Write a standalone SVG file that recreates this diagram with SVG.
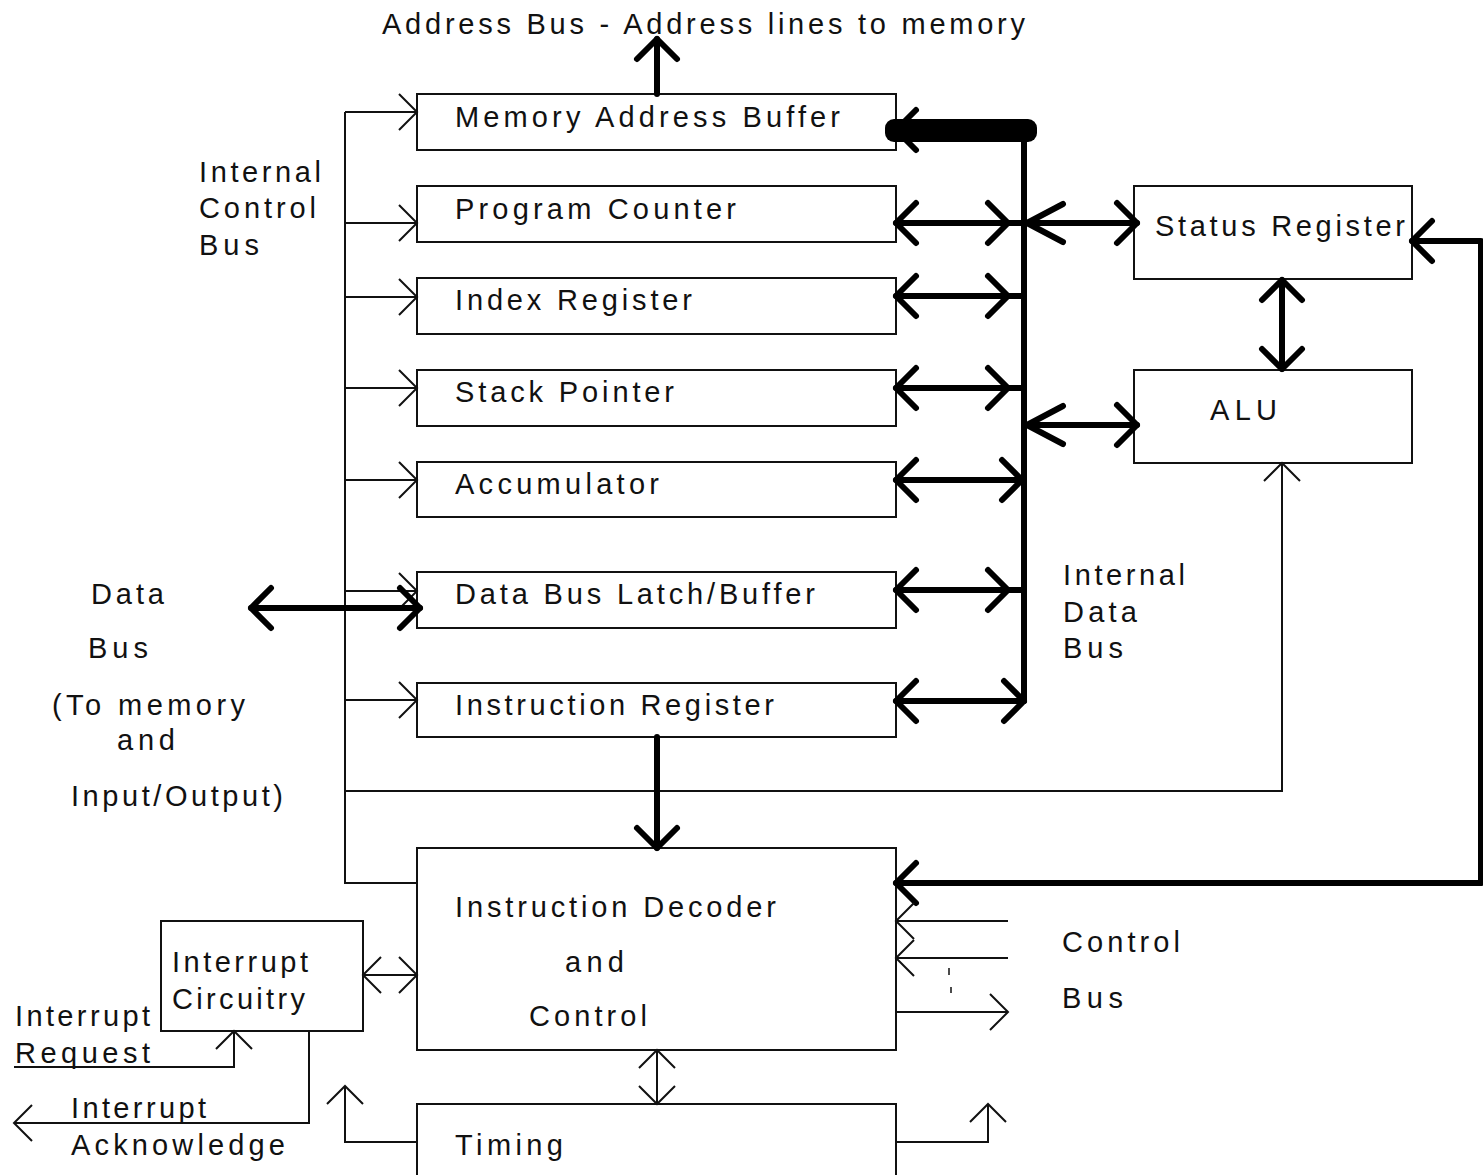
<svg xmlns="http://www.w3.org/2000/svg" width="1483" height="1175" viewBox="0 0 1483 1175">
  <style>
    text { font-family: "Liberation Sans", Arial, sans-serif; font-size: 29px; fill: #111; }
    .box { fill: #fff; stroke: #111; stroke-width: 2; }
    .thin { fill: none; stroke: #111; stroke-width: 2; }
    .thick { fill: none; stroke: #000; stroke-width: 6; stroke-linecap: round; stroke-linejoin: round; }
    .dot { fill: none; stroke: #111; stroke-width: 1.5; }
  </style>
  <defs>
    <!-- arrowheads, all pointing along +x; placed with translate/rotate -->
    <path id="hThin" d="M-18,-18 L0,0 L-18,18" class="thin"/>
    <path id="hThick" d="M-20,-20 L0,0 L-20,20" class="thick"/>
    <path id="hWide" d="M-36,-19 L0,0 L-36,19" class="thick"/>
  </defs>

  <rect width="1483" height="1175" fill="#fff"/>

  <!-- nodes -->
  <g id="mab"><rect class="box" x="417" y="94" width="479" height="56"/><text x="455" y="127" textLength="385" lengthAdjust="spacing">Memory Address Buffer</text></g>
  <g id="pc"><rect class="box" x="417" y="186" width="479" height="56"/><text x="455" y="219" textLength="281" lengthAdjust="spacing">Program Counter</text></g>
  <g id="ix"><rect class="box" x="417" y="278" width="479" height="56"/><text x="455" y="310" textLength="237" lengthAdjust="spacing">Index Register</text></g>
  <g id="sp"><rect class="box" x="417" y="370" width="479" height="56"/><text x="455" y="402" textLength="219" lengthAdjust="spacing">Stack Pointer</text></g>
  <g id="acc"><rect class="box" x="417" y="462" width="479" height="55"/><text x="455" y="494" textLength="204" lengthAdjust="spacing">Accumulator</text></g>
  <g id="dbl"><rect class="box" x="417" y="572" width="479" height="56"/><text x="455" y="604" textLength="360" lengthAdjust="spacing">Data Bus Latch/Buffer</text></g>
  <g id="ir"><rect class="box" x="417" y="683" width="479" height="54"/><text x="455" y="715" textLength="319" lengthAdjust="spacing">Instruction Register</text></g>
  <g id="status"><rect class="box" x="1134" y="186" width="278" height="93"/><text x="1155" y="236" textLength="250" lengthAdjust="spacing">Status Register</text></g>
  <g id="alu"><rect class="box" x="1134" y="370" width="278" height="93"/><text x="1210" y="420" textLength="67" lengthAdjust="spacing">ALU</text></g>
  <g id="decoder"><rect class="box" x="417" y="848" width="479" height="202"/>
    <text x="455" y="917" textLength="321" lengthAdjust="spacing">Instruction Decoder</text>
    <text x="565" y="972" textLength="59" lengthAdjust="spacing">and</text>
    <text x="529" y="1026" textLength="118" lengthAdjust="spacing">Control</text></g>
  <g id="interrupt"><rect class="box" x="161" y="921" width="202" height="110"/>
    <text x="172" y="972" textLength="136" lengthAdjust="spacing">Interrupt</text>
    <text x="172" y="1009" textLength="133" lengthAdjust="spacing">Circuitry</text></g>
  <g id="timing"><rect class="box" x="417" y="1104" width="479" height="90"/><text x="455" y="1155" textLength="108" lengthAdjust="spacing">Timing</text></g>

  <!-- connectors -->
  <g id="connectors">
    <!-- internal control bus (thin) -->
    <path class="thin" d="M345,112 V883 H417"/>
    <path class="thin" d="M345,112 H417 M345,223 H417 M345,297 H417 M345,388 H417 M345,480 H417 M345,591 H417 M345,700 H417"/>
    <use href="#hThin" transform="translate(417,112)"/>
    <use href="#hThin" transform="translate(417,223)"/>
    <use href="#hThin" transform="translate(417,297)"/>
    <use href="#hThin" transform="translate(417,388)"/>
    <use href="#hThin" transform="translate(417,480)"/>
    <use href="#hThin" transform="translate(417,591)"/>
    <use href="#hThin" transform="translate(417,700)"/>
    <path class="thin" d="M345,791 H1282 V463"/>
    <use href="#hThin" transform="translate(1282,463) rotate(-90)"/>

    <!-- internal data bus -->
    <rect x="885" y="119" width="152" height="23" rx="9" fill="#000"/>
    <use href="#hThick" transform="translate(896,130) rotate(180)"/>
    <path class="thick" d="M1024,130 V701"/>

    <path class="thick" d="M896,223 H1137"/>
    <use href="#hThick" transform="translate(896,223) rotate(180)"/>
    <use href="#hThick" transform="translate(1008,223)"/>
    <use href="#hWide" transform="translate(1027,223) rotate(180)"/>
    <use href="#hThick" transform="translate(1137,223)"/>

    <path class="thick" d="M896,296 H1024"/>
    <use href="#hThick" transform="translate(896,296) rotate(180)"/>
    <use href="#hThick" transform="translate(1008,296)"/>

    <path class="thick" d="M896,388 H1024"/>
    <use href="#hThick" transform="translate(896,388) rotate(180)"/>
    <use href="#hThick" transform="translate(1008,388)"/>

    <path class="thick" d="M1024,425 H1137"/>
    <use href="#hWide" transform="translate(1027,425) rotate(180)"/>
    <use href="#hThick" transform="translate(1137,425)"/>

    <path class="thick" d="M896,480 H1024"/>
    <use href="#hThick" transform="translate(896,480) rotate(180)"/>
    <use href="#hThick" transform="translate(1022,480)"/>

    <path class="thick" d="M896,590 H1024"/>
    <use href="#hThick" transform="translate(896,590) rotate(180)"/>
    <use href="#hThick" transform="translate(1008,590)"/>

    <path class="thick" d="M896,701 H1024"/>
    <use href="#hThick" transform="translate(896,701) rotate(180)"/>
    <use href="#hThick" transform="translate(1024,701)"/>

    <!-- address bus out -->
    <path class="thick" d="M657,94 V39"/>
    <use href="#hThick" transform="translate(657,39) rotate(-90)"/>

    <!-- status register <-> ALU -->
    <path class="thick" d="M1282,280 V369"/>
    <use href="#hThick" transform="translate(1282,280) rotate(-90)"/>
    <use href="#hThick" transform="translate(1282,369) rotate(90)"/>

    <!-- decoder feedback to status register -->
    <path class="thick" d="M1412,241 H1481 V883 H896"/>
    <use href="#hThick" transform="translate(1412,241) rotate(180)"/>
    <use href="#hThick" transform="translate(896,883) rotate(180)"/>

    <!-- instruction register to decoder -->
    <path class="thick" d="M657,737 V848"/>
    <use href="#hThick" transform="translate(657,848) rotate(90)"/>

    <!-- external data bus -->
    <path class="thick" d="M251,608 H420"/>
    <use href="#hThick" transform="translate(251,608) rotate(180)"/>
    <use href="#hThick" transform="translate(420,608)"/>

    <!-- control bus lines -->
    <path class="thin" d="M896,921 H1008 M896,958 H1008 M896,1012 H1008"/>
    <use href="#hThin" transform="translate(896,921) rotate(180)"/>
    <use href="#hThin" transform="translate(896,958) rotate(180)"/>
    <use href="#hThin" transform="translate(1008,1012)"/>
    <path class="dot" d="M949,968 V975 M951,987 V993"/>

    <!-- interrupt circuitry links -->
    <path class="thin" d="M363,975 H417"/>
    <use href="#hThin" transform="translate(363,975) rotate(180)"/>
    <use href="#hThin" transform="translate(417,975)"/>
    <path class="thin" d="M14,1067 H234 V1031"/>
    <use href="#hThin" transform="translate(234,1031) rotate(-90)"/>
    <path class="thin" d="M309,1031 V1123 H14"/>
    <use href="#hThin" transform="translate(14,1123) rotate(180)"/>

    <!-- decoder <-> timing, timing outputs -->
    <path class="thin" d="M657,1050 V1104"/>
    <use href="#hThin" transform="translate(657,1050) rotate(-90)"/>
    <use href="#hThin" transform="translate(657,1104) rotate(90)"/>
    <path class="thin" d="M417,1142 H345 V1086"/>
    <use href="#hThin" transform="translate(345,1086) rotate(-90)"/>
    <path class="thin" d="M896,1142 H988 V1104"/>
    <use href="#hThin" transform="translate(988,1104) rotate(-90)"/>
  </g>

  <!-- free labels -->
  <g id="labels">
    <text x="382" y="34" textLength="643" lengthAdjust="spacing">Address Bus - Address lines to memory</text>
    <text x="199" y="182" textLength="122" lengthAdjust="spacing">Internal</text>
    <text x="199" y="218" textLength="117" lengthAdjust="spacing">Control</text>
    <text x="199" y="255" textLength="60" lengthAdjust="spacing">Bus</text>
    <text x="1063" y="585" textLength="122" lengthAdjust="spacing">Internal</text>
    <text x="1063" y="622" textLength="74" lengthAdjust="spacing">Data</text>
    <text x="1063" y="658" textLength="60" lengthAdjust="spacing">Bus</text>
    <text x="91" y="604" textLength="73" lengthAdjust="spacing">Data</text>
    <text x="88" y="658" textLength="60" lengthAdjust="spacing">Bus</text>
    <text x="52" y="715" textLength="193" lengthAdjust="spacing">(To memory</text>
    <text x="117" y="750" textLength="58" lengthAdjust="spacing">and</text>
    <text x="71" y="806" textLength="212" lengthAdjust="spacing">Input/Output)</text>
    <text x="1062" y="952" textLength="118" lengthAdjust="spacing">Control</text>
    <text x="1062" y="1008" textLength="61" lengthAdjust="spacing">Bus</text>
    <text x="15" y="1026" textLength="135" lengthAdjust="spacing">Interrupt</text>
    <text x="15" y="1063" textLength="135" lengthAdjust="spacing">Request</text>
    <text x="71" y="1118" textLength="135" lengthAdjust="spacing">Interrupt</text>
    <text x="71" y="1155" textLength="214" lengthAdjust="spacing">Acknowledge</text>
  </g>
</svg>
